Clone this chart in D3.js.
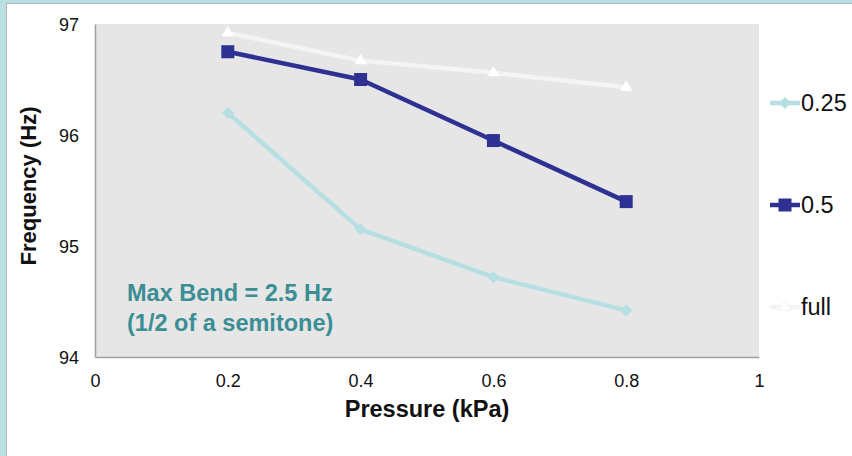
<!DOCTYPE html>
<html>
<head>
<meta charset="utf-8">
<script src="https://cdn.jsdelivr.net/npm/d3@7"></script>
<style>
  html, body { margin: 0; padding: 0; background: #b9dfe2; }
  svg { display: block; }
  text { font-family: "Liberation Sans", Arial, sans-serif; }
</style>
</head>
<body>
<svg id="chart" width="852" height="456"></svg>
<script>
// Pressure values (kPa) on the x axis
const pressures = [0.2, 0.4, 0.6, 0.8];
// Frequency (Hz) for each opening size
const series025 = [96.2, 95.15, 94.72, 94.42];
const series05 = [96.75, 96.5, 95.95, 95.4];
const seriesFull = [96.92, 96.67, 96.56, 96.43];
const seriesNames = ["0.25", "0.5", "full"];
const xTicks = [0, 0.2, 0.4, 0.6, 0.8, 1];
const yTicks = [94, 95, 96, 97];

const svg = d3.select("#chart");
const W = 852, H = 456;

// outer card with grey edge
svg.append("rect").attr("x", 0).attr("y", 0).attr("width", W).attr("height", H).attr("fill", "#b9dfe2");
svg.append("rect").attr("x", 6.5).attr("y", 3.5).attr("width", W).attr("height", H)
  .attr("fill", "#ffffff").attr("stroke", "#b4b4b4").attr("stroke-width", 1);

const plot = { left: 95, right: 759, top: 24, bottom: 357 };
const x = d3.scaleLinear().domain([0, 1]).range([plot.left, plot.right]);
const y = d3.scaleLinear().domain([94, 97]).range([plot.bottom, plot.top]);

// plot background
svg.append("rect")
  .attr("x", plot.left).attr("y", plot.top)
  .attr("width", plot.right - plot.left).attr("height", plot.bottom - plot.top)
  .attr("fill", "#e6e6e6");

// axes
const xAxis = d3.axisBottom(x).tickValues(xTicks).tickSize(0).tickPadding(0)
  .tickFormat(d => d3.format("~g")(d));
const yAxis = d3.axisLeft(y).tickValues(yTicks).tickSize(0).tickPadding(0)
  .tickFormat(d3.format("d"));

const gx = svg.append("g").attr("transform", `translate(0,${plot.bottom})`).call(xAxis);
gx.select(".domain").attr("stroke", "#a0a0a0").attr("stroke-width", 1.5);
gx.selectAll("text").attr("font-size", 18).attr("fill", "#111").attr("dy", 0).attr("y", 30);

const gy = svg.append("g").attr("transform", `translate(${plot.left},0)`).call(yAxis);
gy.select(".domain").attr("stroke", "#a0a0a0").attr("stroke-width", 1.5);
gy.selectAll("text").attr("font-size", 18).attr("fill", "#111").attr("x", -16).attr("dy", "0.36em");

// axis titles
svg.append("text").attr("x", 427).attr("y", 417).attr("text-anchor", "middle")
  .attr("font-size", 23.5).attr("font-weight", "bold").attr("fill", "#111")
  .text("Pressure (kPa)");
svg.append("text").attr("transform", "translate(36,186) rotate(-90)").attr("text-anchor", "middle")
  .attr("font-size", 22).attr("font-weight", "bold").attr("fill", "#111")
  .text("Frequency (Hz)");

// series definitions
const symSquare = d3.symbol().type(d3.symbolSquare).size(169);
const symDiamond = d3.symbol().type(d3.symbolSquare).size(74);
const symTriangle = d3.symbol().type(d3.symbolTriangle).size(64);

const seriesList = [
  { name: seriesNames[0], values: series025, color: "#b6dfe2", marker: "#b6dfe2", sym: symDiamond, rot: 45 },
  { name: seriesNames[1], values: series05, color: "#2e3192", marker: "#2e3192", sym: symSquare, rot: 0 },
  { name: seriesNames[2], values: seriesFull, color: "#f4f4f4", marker: "#ffffff", sym: symTriangle, rot: 0 }
];

const line = d3.line().x(d => x(d[0])).y(d => y(d[1]));

seriesList.forEach(s => {
  const pts = pressures.map((p, i) => [p, s.values[i]]);
  svg.append("path").datum(pts).attr("d", line)
    .attr("fill", "none").attr("stroke", s.color).attr("stroke-width", 4.5)
    .attr("stroke-linejoin", "round");
  svg.append("g").selectAll("path").data(pts).join("path")
    .attr("d", s.sym())
    .attr("transform", d => `translate(${x(d[0])},${y(d[1])}) rotate(${s.rot})`)
    .attr("fill", s.marker);
});

// legend
const legendY = [103, 205, 307];
seriesList.forEach((s, i) => {
  const g = svg.append("g").attr("transform", `translate(770,${legendY[i]})`);
  g.append("line").attr("x1", 0).attr("x2", 30).attr("y1", 0).attr("y2", 0)
    .attr("stroke", s.color).attr("stroke-width", 4.5);
  g.append("path").attr("d", s.sym()).attr("transform", `translate(15,0) rotate(${s.rot})`)
    .attr("fill", s.marker).attr("stroke", i === 2 ? "#f0f0f0" : "none").attr("stroke-width", 0.8);
  g.append("text").attr("x", 31).attr("y", 0).attr("dy", "0.36em")
    .attr("font-size", 23.5).attr("fill", "#111").text(s.name);
});

// annotation
const note = svg.append("text").attr("font-size", 23.5).attr("font-weight", "bold").attr("fill", "#3a8e94");
note.append("tspan").attr("x", 127).attr("y", 301).text("Max Bend = 2.5 Hz");
note.append("tspan").attr("x", 127).attr("y", 331).text("(1/2 of a semitone)");
</script>
</body>
</html>
